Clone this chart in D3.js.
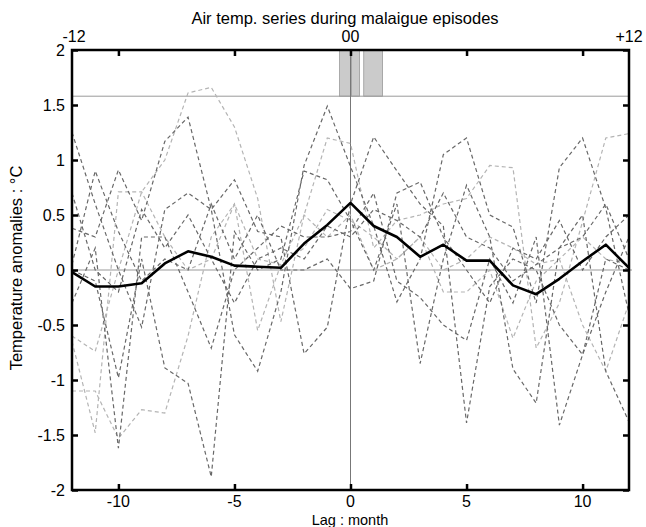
<!DOCTYPE html>
<html><head><meta charset="utf-8">
<script src="https://cdn.jsdelivr.net/npm/d3@7"></script>
<style>body{margin:0;background:#fff;} text{font-family:"Liberation Sans",Arial,sans-serif;}</style>
</head><body><svg id="c" width="646" height="527"></svg>
<script>
const lags = d3.range(-12, 13);
const meanSeries = [-0.02,-0.15,-0.15,-0.12,0.06,0.17,0.12,0.04,0.03,0.02,0.24,0.41,0.61,0.40,0.30,0.12,0.23,0.085,0.085,-0.14,-0.22,-0.08,0.08,0.23,0.02];
const darkSeries = [
  [1.25,0.6,0.0,-0.52,0.55,0.7,0.55,-0.59,-0.92,-0.2,0.95,1.49,0.94,0.4,-0.29,0.1,1.05,1.2,0.5,0.39,-0.3,0.93,1.2,0.56,-0.4],
  [0.38,0.3,0.91,0.45,1.17,1.39,0.55,0.82,0.35,0.3,-0.76,-0.52,0.6,1.21,0.9,0.6,0.4,-1.39,-0.15,0.1,0.0,-0.5,-0.77,-0.2,0.3],
  [0.0,-0.1,-0.98,0.1,-0.89,-1.03,-1.88,0.35,0.0,0.1,0.9,0.82,0.45,0.0,0.6,-0.85,0.1,0.77,0.3,-0.9,-1.21,0.2,0.5,-0.92,-1.38],
  [-0.3,0.2,-1.62,0.3,0.3,-0.2,-0.71,0.0,0.2,0.4,0.3,0.3,0.35,0.7,-0.1,-0.25,-0.5,-0.64,0.1,-0.3,0.3,-1.41,-0.77,0.1,0.0],
  [0.05,0.9,0.35,-0.1,0.1,0.0,0.6,0.1,0.5,0.0,0.0,0.1,-0.17,-0.1,0.7,0.8,0.3,0.0,-0.3,0.2,0.1,0.45,0.0,0.3,0.5],
  [0.7,0.0,-0.2,0.55,0.2,0.5,0.1,-0.3,0.1,0.2,0.1,0.4,0.3,0.55,0.45,0.3,0.7,0.3,0.2,-0.1,0.05,0.2,0.3,0.6,0.1]
];
const lightSeries = [
  [-0.6,-0.74,0.0,0.71,1.0,1.61,1.66,1.3,0.65,-0.47,0.5,1.2,1.15,0.2,0.45,0.5,0.6,0.65,0.95,0.93,-0.71,-0.3,0.44,1.2,1.24],
  [-1.1,-1.1,-1.53,-1.27,-1.3,-0.6,0.3,0.6,-0.55,0.05,0.2,0.55,0.45,0.3,0.1,0.3,-0.2,-0.2,0.0,-0.62,-0.1,0.1,-0.5,-0.92,-0.3],
  [-0.65,-1.48,0.71,0.71,0.3,0.0,0.1,0.6,0.1,0.05,0.5,0.3,0.5,0.0,0.1,0.3,0.0,0.1,0.3,0.2,0.05,0.1,0.3,0.1,0.05]
];
const barStart = [-0.47, 0.04, 0.57];
const barEnd = [0.0, 0.39, 1.38];
const bandLevel = 1.58;
const xTicks = [-10,-5,0,5,10];
const yTicks = [-2,-1.5,-1,-0.5,0,0.5,1,1.5,2];
const topLabels = ["-12","00","+12"];
const topLabelPos = [-12,0,12];

const svg = d3.select("#c");
const L=72, R=629, T=50, B=490;
const x = d3.scaleLinear().domain([-12,12]).range([L,R]);
const y = d3.scaleLinear().domain([-2,2]).range([B,T]);

svg.append("text").attr("x",345).attr("y",24).attr("text-anchor","middle").attr("font-size",16.5).text("Air temp. series during malaigue episodes");

// bars
svg.selectAll("rect.bar").data(barStart).enter().append("rect")
  .attr("x",(d)=>x(d)).attr("y",y(2)).attr("width",(d,i)=>x(barEnd[i])-x(d)).attr("height",y(bandLevel)-y(2))
  .attr("fill","#cbcbcb").attr("stroke","#9a9a9a").attr("stroke-width",0.8);

// reference lines
svg.append("line").attr("x1",L).attr("x2",R).attr("y1",y(bandLevel)).attr("y2",y(bandLevel)).attr("stroke","#9a9a9a").attr("stroke-width",1);
svg.append("line").attr("x1",L).attr("x2",R+3).attr("y1",y(0)).attr("y2",y(0)).attr("stroke","#9a9a9a").attr("stroke-width",1.2);
svg.append("line").attr("x1",x(0)).attr("x2",x(0)).attr("y1",T).attr("y2",B).attr("stroke","#777").attr("stroke-width",1);

const line = d3.line().x((d,i)=>x(lags[i])).y(d=>y(d));
svg.selectAll("path.light").data(lightSeries).enter().append("path")
  .attr("d",line).attr("fill","none").attr("stroke","#b4b4b4").attr("stroke-width",1.2).attr("stroke-dasharray","4,3");
svg.selectAll("path.dark").data(darkSeries).enter().append("path")
  .attr("d",line).attr("fill","none").attr("stroke","#686868").attr("stroke-width",1.2).attr("stroke-dasharray","4,3");
svg.append("path").datum(meanSeries).attr("d",line).attr("fill","none").attr("stroke","#000").attr("stroke-width",2.6).attr("stroke-linejoin","round");

// axes (inward ticks)
const fs = 16;
const gB = svg.append("g").attr("transform",`translate(0,${B})`).call(d3.axisTop(x).tickValues(xTicks).tickSize(6).tickFormat(""));
const gT = svg.append("g").attr("transform",`translate(0,${T})`).call(d3.axisBottom(x).tickValues(xTicks).tickSize(6).tickFormat(""));
const gL = svg.append("g").attr("transform",`translate(${L},0)`).call(d3.axisRight(y).tickValues(yTicks).tickSize(6).tickFormat(""));
const gR = svg.append("g").attr("transform",`translate(${R},0)`).call(d3.axisLeft(y).tickValues(yTicks).tickSize(6).tickFormat(""));
[gB,gT,gL,gR].forEach(g=>{g.select(".domain").remove(); g.selectAll(".tick line").attr("stroke","#000").attr("stroke-width",2.5);});
svg.append("rect").attr("x",L).attr("y",T).attr("width",R-L).attr("height",B-T).attr("fill","none").attr("stroke","#000").attr("stroke-width",2.5);

// tick labels
svg.selectAll("text.xt").data(xTicks).enter().append("text").attr("x",d=>x(d)).attr("y",B+17).attr("text-anchor","middle").attr("font-size",fs).text(d=>d);
svg.selectAll("text.yt").data(yTicks).enter().append("text").attr("x",L-7).attr("y",d=>y(d)+6).attr("text-anchor","end").attr("font-size",fs).text(d=>d);
svg.selectAll("text.tt").data(topLabels).enter().append("text").attr("x",(d,i)=>x(topLabelPos[i])+(i==0?2:0)).attr("y",42).attr("text-anchor","middle").attr("font-size",fs).text(d=>d);

svg.append("text").attr("x",350).attr("y",525).attr("text-anchor","middle").attr("font-size",14.5).text("Lag : month");
svg.append("text").attr("transform","translate(22,268) rotate(-90)").attr("text-anchor","middle").attr("font-size",16.5).text("Temperature anomalies : °C");
</script></body></html>
